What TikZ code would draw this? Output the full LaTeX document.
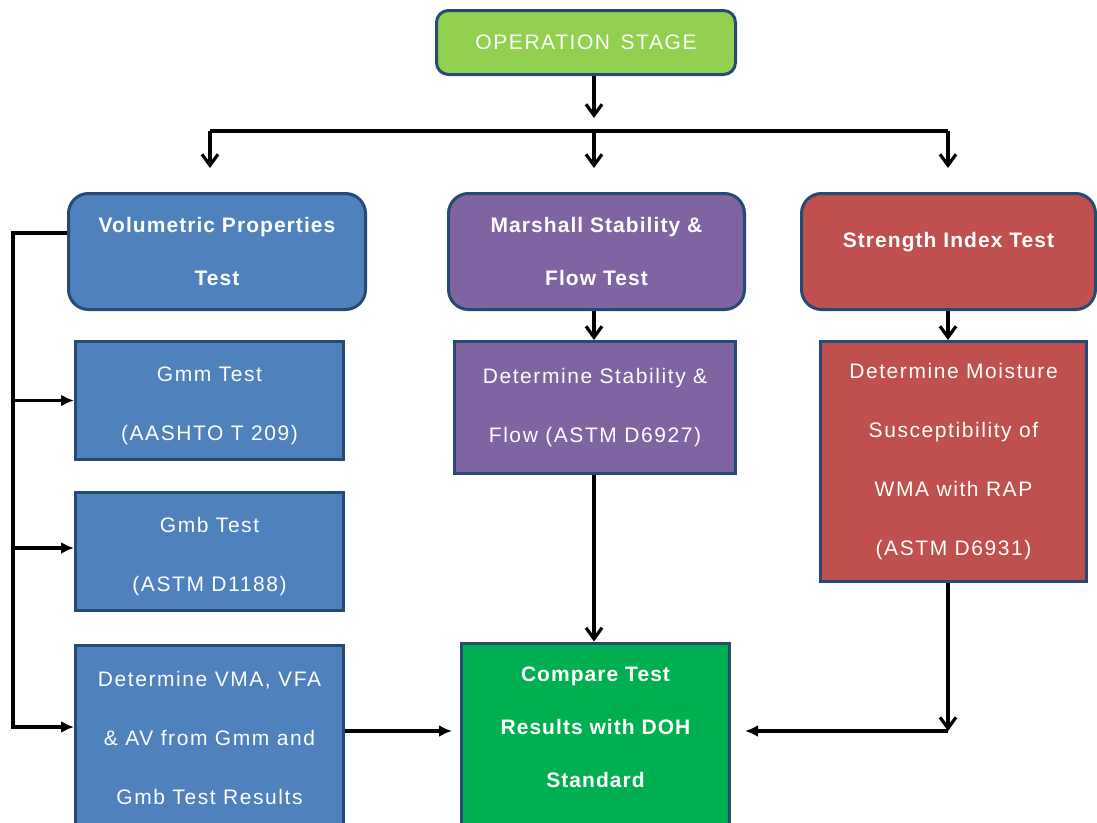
\documentclass[tikz,border=0pt]{standalone}
\usepackage{fontspec}
\setmainfont{Liberation Sans}[LetterSpace=7.5]
\newfontfamily\headfont{Liberation Sans}[LetterSpace=5]
\usetikzlibrary{arrows.meta}
\definecolor{cborder}{RGB}{38,74,118}
\definecolor{copgreen}{RGB}{146,208,80}
\definecolor{cblue}{RGB}{79,129,189}
\definecolor{cpurple}{RGB}{128,100,162}
\definecolor{cred}{RGB}{192,80,77}
\definecolor{cgreen}{RGB}{0,176,80}
\newcommand\lowline[1]{\raisebox{-5pt}[\height][\depth]{#1}}
\begin{document}
\begin{tikzpicture}[x=1pt, y=-1pt,
    every node/.style = {shape=rectangle, draw=cborder, line width=3pt,
    align=center, text=white, font=\fontsize{21}{59}\selectfont},
    head/.style={rounded corners=20pt, font=\headfont\bfseries\fontsize{21}{53}\selectfont},
    bgreen/.style={fill=copgreen},
    bblue/.style={fill=cblue},
    bpurple/.style={fill=cpurple},
    bred/.style={fill=cred},
    bdone/.style={fill=cgreen, font=\headfont\bfseries\fontsize{21}{53}\selectfont},
    conn/.style={draw=black, line width=3.2pt},
    varrow/.style={conn, -{Straight Barb[length=11pt,width=16pt]}},
    farrow/.style={conn, -{Latex[length=13pt,width=12pt]}}]
    \useasboundingbox (0,0) rectangle (1097,822);
    \clip (0,0) rectangle (1097,822);
    % top
    \node[bgreen, rounded corners=12pt, minimum width=299pt, minimum height=64pt]
        (op) at (586,42.5) {OPERATION\hspace{0.5em}STAGE};
    % tests
    \node[head, bblue, minimum width=297pt, minimum height=116pt]
        (vol) at (217,251.5) {Volumetric Properties\\Test};
    \node[head, bpurple, minimum width=296pt, minimum height=116pt]
        (mar) at (596.5,251.5) {Marshall Stability \&\\Flow Test};
    \node[head, bred, minimum width=294pt, minimum height=116pt]
        (str) at (948.5,251.5) {Strength Index Test\\[-29pt]\mbox{}};
    % steps
    \node[bblue, minimum width=268pt, minimum height=118pt]
        (gmm) at (209.5,400.5) {\lowline{Gmm Test}\\\lowline{(AASHTO T 209)}};
    \node[bblue, minimum width=268pt, minimum height=118pt]
        (gmb) at (209.5,551.5) {\lowline{Gmb Test}\\\lowline{(ASTM D1188)}};
    \node[bblue, minimum width=268pt, minimum height=185pt]
        (vma) at (209.5,738) {Determine VMA, VFA\\\& AV from Gmm and\\Gmb Test Results};
    \node[bpurple, minimum width=281pt, minimum height=132pt]
        (det) at (595,407.5) {Determine Stability \&\\Flow (ASTM D6927)};
    \node[bred, minimum width=266pt, minimum height=240pt]
        (moist) at (953.5,461.5) {Determine Moisture\\Susceptibility of\\WMA with RAP\\(ASTM D6931)};
    \node[bdone, minimum width=268pt, minimum height=222pt]
        (cmp) at (595.5,754) {Compare Test\\Results with DOH\\Standard\\\mbox{}};
    % connectors
    \coordinate (t0) at (594,118);
    \coordinate (b0) at (594,131);
    \coordinate (bl) at (210,131);
    \coordinate (br) at (948,131);
    \coordinate (l0) at (13,233);
    \coordinate (l1) at (13,727);
    \coordinate (r0) at (948,731);
    \draw[varrow] (op.south -| t0) -- (t0);
    \draw[conn] (bl) -- (br);
    \draw[varrow, shorten >=24pt] (bl) -- (bl |- vol.north);
    \draw[varrow, shorten >=24pt] (b0) -- (b0 |- mar.north);
    \draw[varrow, shorten >=24pt] (br) -- (br |- str.north);
    \draw[farrow] (vol.west |- l0) -- (l0) -- (l1) -- (vma.west |- l1);
    \draw[farrow] (l0 |- gmm.west) -- (gmm.west);
    \draw[farrow] (l0 |- 0,548) -- (gmb.west |- 0,548);
    \draw[varrow] (mar.south -| b0) -- (det.north -| b0);
    \draw[varrow] (det.south -| b0) -- (cmp.north -| b0);
    \draw[varrow] (str.south -| br) -- (moist.north -| br);
    \draw[varrow] (moist.south -| r0) -- (r0);
    \draw[farrow, shorten >=14pt] (r0) -- (cmp.east |- r0);
    \draw[farrow, shorten >=8pt] (vma.east |- r0) -- (cmp.west |- r0);
\end{tikzpicture}
\end{document}
